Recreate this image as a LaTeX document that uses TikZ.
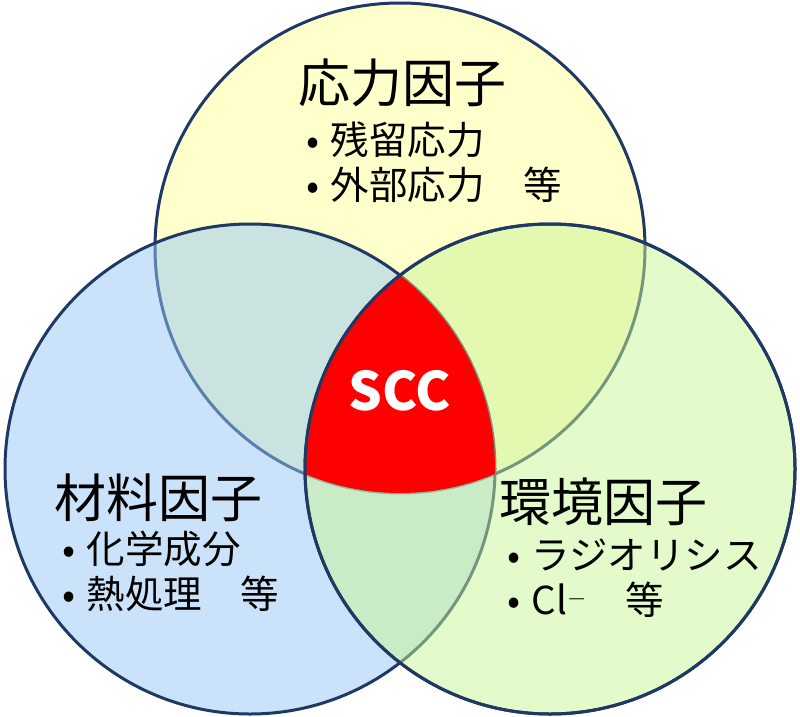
\documentclass[tikz,border=0pt]{standalone}
\usepackage{fontspec}
\newfontfamily\jpfont{Noto Sans CJK JP}
\usetikzlibrary{positioning}
\definecolor{ringline}{HTML}{1F3864}
\definecolor{stressfill}{HTML}{FFFFCC}
\definecolor{materialfill}{RGB}{150,200,245}
\definecolor{envfill}{RGB}{200,245,150}
\definecolor{sccred}{HTML}{FF0000}
\tikzstyle{ring}   = [draw=ringline, line width=3pt]
\tikzstyle{factor} = [inner sep=0pt, font=\jpfont\fontsize{52}{58}\selectfont]
\tikzstyle{items}  = [inner sep=0pt, align=left, font=\jpfont\fontsize{38.5}{45}\selectfont]
\newcommand{\bul}{•\hspace{0.3em}}

\begin{document}
\begin{tikzpicture}[x=1pt, y=-1pt]
  \useasboundingbox (0,0) rectangle (800,717);

  % Circles
  \coordinate (top)   at (400,248);
  \coordinate (left)  at (250,469);
  \coordinate (right) at (550,469);
  \draw[ring, fill=stressfill] (top) circle (245);
  \draw[ring, fill=materialfill, fill opacity=0.5] (left) circle (245);
  \draw[ring, fill=envfill, fill opacity=0.5] (right) circle (245);

  % Common region
  \begin{scope}
    \clip (top) circle (245);
    \clip (left) circle (245);
    \fill[sccred] (right) circle (245);
  \end{scope}
  \draw[ring] (right) circle (245);
  \node (scc) at (400,391) [inner sep=0pt, text=white,
        font=\jpfont\bfseries\fontsize{53}{60}\selectfont] {SCC};

  % Stress factors
  \node (stress) at (402,83) [factor] {応力因子};
  \node (stressitems) [items, below right=14pt and 8pt of stress.south west]
        {\bul 残留応力\\\bul 外部応力　等};

  % Material factors
  \node (material) at (158,498) [factor] {材料因子};
  \node (materialitems) [items, below right=9pt and 8pt of material.south west]
        {\bul 化学成分\\\bul 熱処理　等};

  % Environment factors
  \node (env) at (603,502) [factor] {環境因子};
  \node (envitems) [items, below right=13pt and 8pt of env.south west]
        {\bul ラジオリシス\\\bul Cl$^{-}$　等};
\end{tikzpicture}
\end{document}
